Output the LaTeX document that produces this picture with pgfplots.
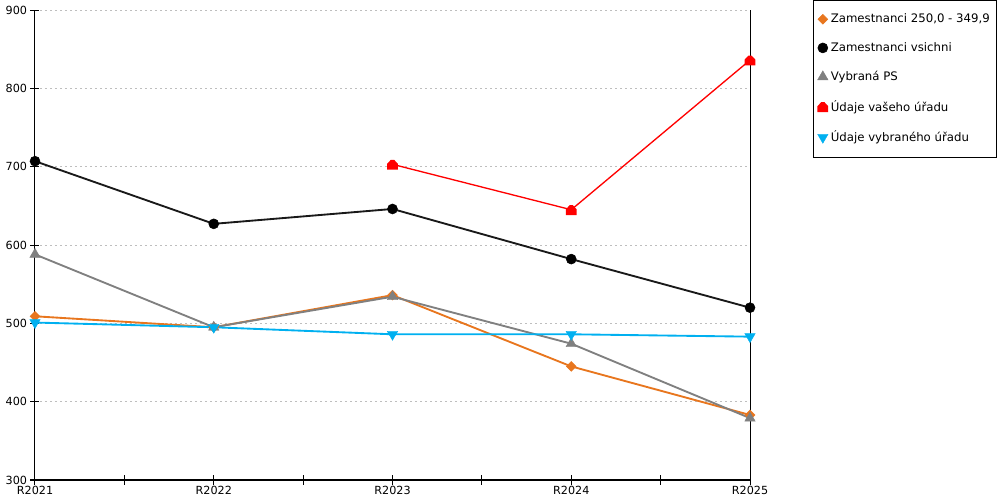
\documentclass[border=0pt]{standalone}
\usepackage{fontspec}
\setmainfont{DejaVu Sans}
\usepackage{pgfplots}
\pgfplotsset{compat=1.18}
\usetikzlibrary{calc}
\definecolor{corange}{RGB}{232,118,30}
\definecolor{cgray}{RGB}{128,128,128}
\definecolor{cblue}{RGB}{0,176,240}
\definecolor{cred}{RGB}{255,0,0}
\definecolor{cgrid}{RGB}{190,190,190}
\pgfdeclareplotmark{house}{%
  \pgfpathmoveto{\pgfqpoint{-\pgfplotmarksize}{-\pgfplotmarksize}}%
  \pgfpathlineto{\pgfqpoint{\pgfplotmarksize}{-\pgfplotmarksize}}%
  \pgfpathlineto{\pgfqpoint{\pgfplotmarksize}{0.1\pgfplotmarksize}}%
  \pgfpathlineto{\pgfqpoint{0.3\pgfplotmarksize}{0.85\pgfplotmarksize}}%
  \pgfpathlineto{\pgfqpoint{-0.3\pgfplotmarksize}{0.85\pgfplotmarksize}}%
  \pgfpathlineto{\pgfqpoint{-\pgfplotmarksize}{0.1\pgfplotmarksize}}%
  \pgfpathclose
  \pgfusepathqfill}
\begin{document}
\begin{tikzpicture}
\begin{axis}[
  name=ax,
  scale only axis,
  width=536.25pt, height=352.5pt,
  xmin=0, xmax=4, ymin=300, ymax=900,
  axis lines*=left,
  axis line style={black, line width=0.75pt},
  clip=false,
  xtick={0,1,2,3,4},
  xticklabels={R2021,R2022,R2023,R2024,R2025},
  minor xtick={0.5,1.5,2.5,3.5},
  ytick={300,400,...,900},
  tick align=center,
  major tick length=6.75pt,
  minor tick length=6.75pt,
  tick style={black, line width=0.75pt},
  ymajorgrids,
  major grid style={cgrid, dash pattern=on 1.5pt off 2.25pt, line width=0.75pt},
  /pgf/number format/assume math mode=true,
  tick label style={font=\fontsize{8.4pt}{10pt}\selectfont},
  yticklabel style={xshift=1pt},
  xticklabel style={yshift=2pt},
  legend style={at={(1.0881,1.0213)}, anchor=north west, draw=black, line width=0.75pt,
    font=\fontsize{8.8pt}{10.5pt}\selectfont, row sep=9.3pt, inner xsep=3pt, inner ysep=8pt},
  legend cell align=left,
  legend image code/.code={\draw[#1,only marks] plot coordinates {(0.1cm,0cm)};},
  every axis plot/.append style={line width=1.4pt},
]
\addplot[corange, mark=square*, mark size=2.6pt, mark options={rotate=45, fill=corange, draw=corange, line width=0.4pt}]
  coordinates {(0,509) (1,495) (2,536) (3,445) (4,383)};
\addlegendentry{Zamestnanci 250,0 - 349,9}
\addplot[black!90, mark=*, mark size=3.75pt, mark options={fill=black, draw=black, line width=0.4pt}]
  coordinates {(0,707) (1,627) (2,646) (3,582) (4,520)};
\addlegendentry{Zamestnanci vsichni}
\addplot[cgray, mark=triangle*, mark size=4.5pt, mark options={fill=cgray, draw=cgray, line width=0.3pt}]
  coordinates {(0,588) (1,495) (2,534) (3,474) (4,379)};
\addlegendentry{Vybraná PS}
\addplot[cred, line width=1.0pt, mark=house, mark size=4pt, mark options={fill=cred, draw=cred}]
  coordinates {(2,703) (3,645) (4,836)};
\addlegendentry{Údaje vašeho úřadu}
\addplot[cblue, mark=triangle*, mark size=4.5pt, mark options={rotate=180, fill=cblue, draw=cblue, line width=0.3pt}]
  coordinates {(0,501) (1,495) (2,486) (3,486) (4,483)};
\addlegendentry{Údaje vybraného úřadu}
\draw[black, line width=0.75pt] (rel axis cs:1,0) -- (rel axis cs:1,1);
\end{axis}
\pgfresetboundingbox
\path ($(ax.south west)+(-26.25pt,-15pt)$) rectangle ($(ax.north east)+(187.5pt,7.5pt)$);
\end{tikzpicture}
\end{document}
